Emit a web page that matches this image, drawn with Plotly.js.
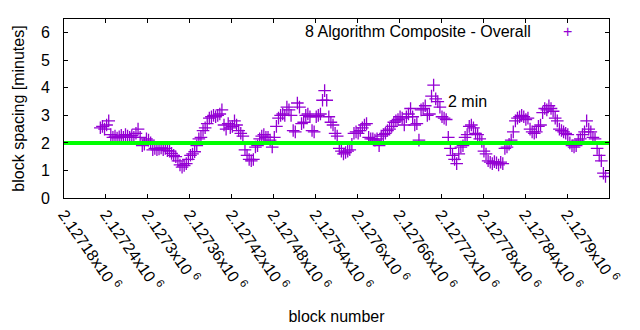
<!DOCTYPE html>
<html>
<head>
<meta charset="utf-8">
<script src="https://cdn.plot.ly/plotly-3.0.1.min.js"></script>
<style>html,body{margin:0;padding:0;background:#fff;}#chart{width:640px;height:330px;}</style>
</head>
<body>
<div id="chart"></div>
<script>
// ---- data ----
var blocks = [
2127232,2127235,2127238,2127241,2127244,2127247,2127250,2127253,2127256,2127259,
2127262,2127265,2127268,2127271,2127274,2127277,2127280,2127283,2127286,2127289,
2127292,2127295,2127298,2127301,2127304,2127307,2127310,2127313,2127316,2127319,
2127322,2127325,2127328,2127331,2127334,2127337,2127340,2127343,2127346,2127349,
2127352,2127355,2127358,2127361,2127364,2127367,2127370,2127373,2127376,2127379,
2127382,2127385,2127388,2127391,2127394,2127397,2127400,2127403,2127406,2127409,
2127412,2127415,2127418,2127421,2127424,2127427,2127430,2127433,2127436,2127439,
2127442,2127445,2127448,2127451,2127454,2127457,2127460,2127463,2127466,2127469,
2127472,2127475,2127478,2127481,2127484,2127487,2127490,2127493,2127496,2127499,
2127502,2127505,2127508,2127511,2127514,2127517,2127520,2127523,2127526,2127529,
2127532,2127535,2127538,2127541,2127544,2127547,2127550,2127553,2127556,2127559,
2127562,2127565,2127568,2127571,2127574,2127577,2127580,2127583,2127586,2127589,
2127592,2127595,2127598,2127601,2127604,2127607,2127610,2127613,2127616,2127619,
2127622,2127625,2127628,2127631,2127634,2127637,2127640,2127643,2127646,2127649,
2127652,2127655,2127658,2127661,2127664,2127667,2127670,2127673,2127676,2127679,
2127682,2127685,2127688,2127691,2127694,2127697,2127700,2127703,2127706,2127709,
2127712,2127715,2127718,2127721,2127724,2127727,2127730,2127733,2127736,2127739,
2127742,2127745,2127748,2127751,2127754,2127757,2127760,2127763,2127766,2127769,
2127772,2127775,2127778,2127781,2127784,2127787,2127790,2127793,2127796,2127799,
2127802,2127805,2127808,2127811,2127814,2127817,2127820,2127823,2127826,2127829,
2127832,2127835,2127838,2127841,2127844,2127847,2127850,2127853,2127856,2127859,
2127862,2127865,2127868,2127871,2127874,2127877,2127880,2127883,2127886,2127889,
2127892,2127895,2127898,2127901,2127904,2127907,2127910,2127913,2127916,2127919,
2127922,2127925,2127928,2127931,2127934,2127937,2127940,2127943,2127946,2127949,
2127952,2127955
];
var spacingMinutes = [
2.55,2.6,2.5,2.65,2.8,2.3,2.2,2.25,2.18,2.22,
2.28,2.2,2.3,2.25,2.2,2.27,2.2,2.35,2.5,2.2,
1.9,1.95,2.15,2.1,2.0,1.75,1.8,1.75,1.78,1.82,
1.75,1.8,1.72,1.7,1.62,1.55,1.5,1.35,1.2,1.12,
1.18,1.25,1.4,1.55,1.6,1.68,1.9,2.15,2.2,2.45,
2.55,2.7,2.9,2.95,3.0,2.95,3.0,3.05,3.2,2.65,
2.5,2.7,2.55,2.6,2.8,2.65,2.45,2.35,2.25,1.75,
1.55,1.4,1.35,1.4,1.85,1.9,2.15,2.25,2.3,2.2,
2.2,2.1,1.85,2.2,2.6,2.9,3.0,3.05,3.0,3.3,
3.2,3.0,2.45,2.4,3.45,3.3,2.7,2.75,3.0,3.05,
2.95,2.45,2.4,2.95,3.0,3.05,3.55,3.9,3.55,2.95,
2.75,2.65,2.35,2.25,1.8,1.7,1.6,1.65,1.7,1.75,
1.95,2.35,2.4,2.35,2.45,2.55,2.65,2.7,2.2,2.15,
2.15,2.1,2.15,1.9,2.25,2.3,2.35,2.45,2.5,2.6,
2.75,2.8,2.85,2.95,2.9,2.65,2.95,3.05,3.25,2.95,
2.65,2.7,2.1,3.2,3.25,3.35,3.0,3.05,3.7,4.1,
3.6,3.5,3.3,2.95,2.9,2.85,2.2,1.8,1.55,1.4,
1.25,1.6,1.85,1.9,2.2,2.3,2.6,2.65,2.55,2.35,
2.3,2.15,2.05,1.7,1.6,1.35,1.3,1.25,1.32,1.28,
1.2,1.3,1.25,1.8,1.85,1.95,2.1,2.4,2.8,2.9,
2.95,3.0,2.95,2.85,2.9,2.5,2.4,2.35,2.4,2.6,
2.65,3.1,3.25,3.2,3.35,3.25,3.15,2.9,2.8,2.5,
2.45,2.4,2.35,2.3,2.0,1.9,1.85,1.9,2.1,2.15,
2.3,2.4,2.8,2.5,2.4,2.2,2.15,1.8,1.55,1.35,
0.9,0.78
];
var targetMinutes = 2;
var xRange = [2127180, 2127960];
var xTickVals = [2127180,2127240,2127300,2127360,2127420,2127480,2127540,2127600,2127660,2127720,2127780,2127840,2127900,2127960];
var xTickMant = ["2.12718","2.12724","2.1273","2.12736","2.12742","2.12748","2.12754","2.1276","2.12766","2.12772","2.12778","2.12784","2.1279","2.12796"];
var yTickVals = [0,1,2,3,4,5,6];
var seriesName = "8 Algorithm Composite - Overall";
var targetLabel = "2 min";

var FONT = "Liberation Sans, Arial, sans-serif";
var PURPLE = "#9400D3";

var xTickText = xTickMant.map(function(m){ return m + "x10 <sup>6</sup>"; });

var traces = [
  {
    type: "scatter", mode: "markers", name: seriesName,
    x: blocks, y: spacingMinutes,
    marker: {symbol: "cross-thin", size: 9, color: PURPLE, line: {color: PURPLE, width: 1.3}},
    showlegend: false, cliponaxis: true
  },
  {
    type: "scatter", mode: "lines", name: targetLabel,
    x: xRange, y: [targetMinutes, targetMinutes],
    line: {color: "#00FF00", width: 4},
    showlegend: false
  }
];

var layout = {
  width: 640, height: 330,
  margin: {l: 64, r: 31, t: 19, b: 132, pad: 0},
  paper_bgcolor: "#ffffff", plot_bgcolor: "#ffffff",
  font: {family: FONT, size: 16, color: "#000"},
  showlegend: false,
  xaxis: {
    range: xRange, tickmode: "array", tickvals: xTickVals, ticktext: xTickText,
    tickangle: 55, ticks: "inside", ticklen: 4, tickcolor: "#000",
    showline: true, linecolor: "#000", linewidth: 1, mirror: "allticks",
    showgrid: false, zeroline: false,
    tickfont: {family: FONT, size: 16, color: "#000"},
    title: {text: "block number", font: {family: FONT, size: 16, color: "#000"}, standoff: 18},
    automargin: false
  },
  yaxis: {
    range: [0, 6.5], tickmode: "array", tickvals: yTickVals,
    ticks: "inside", ticklen: 4, tickcolor: "#000",
    showline: true, linecolor: "#000", linewidth: 1, mirror: "allticks",
    showgrid: false, zeroline: false, ticklabelstandoff: 10,
    tickfont: {family: FONT, size: 16, color: "#000"},
    title: {text: "block spacing [minutes]", font: {family: FONT, size: 16, color: "#000"}, standoff: 12},
    automargin: false
  },
  annotations: [
    {xref: "paper", yref: "paper", x: (533-64)/545, y: (198-32)/179, xanchor: "right", yanchor: "middle",
     text: seriesName, showarrow: false, font: {family: FONT, size: 16, color: "#000"}},
    {xref: "paper", yref: "paper", x: (567-64)/545, y: (198-32)/179, xanchor: "center", yanchor: "middle",
     text: "+", showarrow: false, font: {family: FONT, size: 16, color: PURPLE}},
    {xref: "paper", yref: "paper", x: (446-64)/545, y: (198-101)/179, xanchor: "left", yanchor: "middle",
     text: targetLabel, showarrow: false, font: {family: FONT, size: 16, color: "#000"}}
  ]
};

Plotly.newPlot("chart", traces, layout, {staticPlot: true, displayModeBar: false});
</script>
</body>
</html>
